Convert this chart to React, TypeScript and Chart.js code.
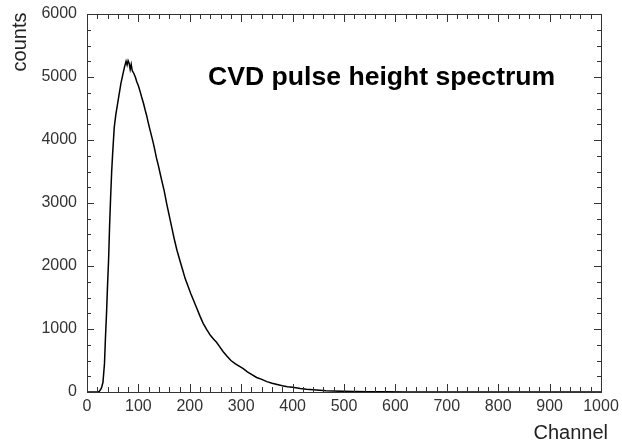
import React, { useEffect, useRef } from "react";
import { Chart, registerables } from "chart.js";

Chart.register(...registerables);

const channels = [
  0, 10, 20, 24, 28, 31, 34, 36, 38, 40, 42, 44, 46, 48, 50, 53, 56, 59, 62, 66, 70, 73, 76, 78, 80, 82, 84, 86,
  88, 91, 94, 97, 100, 103, 106, 110, 113, 116, 119, 122, 126, 129, 132, 135, 139, 142, 145, 150, 155, 160,
  165, 170, 175, 181, 186, 191, 197, 202, 207, 213, 220, 226, 233, 240, 246, 252, 258, 265, 272, 280, 288,
  296, 304, 312, 320, 330, 340, 350, 360, 370, 380, 390, 400, 415, 427, 440, 453, 465, 479, 500, 520, 550,
  580, 620, 700, 800, 900, 1000,
];
const counts = [
  0, 0, 0, 10, 60, 150, 450, 880, 1250, 1700, 2100, 2650, 3100, 3500, 3800, 4200, 4400, 4550, 4700, 4900,
  5050, 5160, 5250, 5190, 5260, 5220, 5120, 5200, 5100, 5060, 5000, 4920, 4860, 4780, 4690, 4580, 4480, 4390,
  4280, 4180, 4050, 3950, 3840, 3720, 3590, 3480, 3370, 3200, 2990, 2800, 2610, 2420, 2250, 2080, 1940, 1800,
  1670, 1560, 1460, 1340, 1200, 1090, 990, 900, 840, 790, 720, 640, 570, 500, 450, 410, 370, 320, 280, 230,
  200, 165, 140, 120, 100, 85, 75, 55, 43, 35, 27, 20, 15, 10, 8, 5, 3, 1, 0, 0, 0, 0,
];

const xMin = 0;
const xMax = 1000;
const xStep = 100;
const xMinorStep = 20;
const yMin = 0;
const yMax = 6000;
const yStep = 1000;
const yMinorStep = 250;

const titleText = "CVD pulse height spectrum";
const xTitle = "Channel";
const yTitle = "counts";

const FONT = "'Liberation Sans', Arial, Helvetica, sans-serif";

const framePlugin = {
  id: "frame",
  afterDraw(chart: any) {
    const { ctx, chartArea } = chart;
    const xs = chart.scales.x;
    const ys = chart.scales.y;
    const { left, right, top, bottom } = chartArea;
    ctx.save();
    ctx.strokeStyle = "#333";
    ctx.lineWidth = 1;
    ctx.strokeRect(Math.round(left) + 0.5, Math.round(top) + 0.5, Math.round(right - left), Math.round(bottom - top));
    ctx.beginPath();
    for (let v = xMin; v <= xMax; v += xMinorStep) {
      const px = Math.round(xs.getPixelForValue(v)) + 0.5;
      const len = v % xStep === 0 ? 8 : 5;
      ctx.moveTo(px, bottom);
      ctx.lineTo(px, bottom - len);
      ctx.moveTo(px, top);
      ctx.lineTo(px, top + len);
    }
    for (let v = yMin; v <= yMax; v += yMinorStep) {
      const py = Math.round(ys.getPixelForValue(v)) + 0.5;
      const len = v % yStep === 0 ? 7 : 4;
      ctx.moveTo(left, py);
      ctx.lineTo(left + len, py);
      ctx.moveTo(right, py);
      ctx.lineTo(right - len, py);
    }
    ctx.stroke();

    // axis titles
    ctx.fillStyle = "#222";
    ctx.font = `20px ${FONT}`;
    ctx.textAlign = "right";
    ctx.textBaseline = "middle";
    ctx.fillText(xTitle, 608, 433);

    ctx.save();
    ctx.translate(26, 42);
    ctx.rotate(-Math.PI / 2);
    ctx.textAlign = "center";
    ctx.textBaseline = "alphabetic";
    ctx.fillText(yTitle, 0, 0);
    ctx.restore();

    // in-plot title
    ctx.fillStyle = "#000";
    ctx.font = `bold 26.6px ${FONT}`;
    ctx.textAlign = "left";
    ctx.textBaseline = "middle";
    ctx.fillText(titleText, 208, 78);
    ctx.restore();
  },
};

export default function App() {
  const canvasRef = useRef<HTMLCanvasElement | null>(null);

  useEffect(() => {
    if (!canvasRef.current) return;
    const points = channels.map((c, i) => ({ x: c, y: counts[i] }));
    const chart = new Chart(canvasRef.current, {
      type: "line",
      data: {
        datasets: [
          {
            data: points,
            borderColor: "#000",
            borderWidth: 1.5,
            pointRadius: 0,
            tension: 0,
            fill: false,
          },
        ],
      },
      options: {
        animation: false,
        responsive: true,
        maintainAspectRatio: false,
        layout: { padding: { left: 0, top: 14, right: 21, bottom: 0 } },
        plugins: {
          legend: { display: false },
          tooltip: { enabled: false },
          title: { display: false },
        },
        scales: {
          x: {
            type: "linear",
            min: xMin,
            max: xMax,
            grid: { display: false, drawTicks: false },
            border: { display: false },
            ticks: {
              stepSize: xStep,
              padding: 5,
              color: "#333",
              font: { family: FONT, size: 16 },
              maxRotation: 0,
              autoSkip: false,
              callback: (v: any) => String(v),
            },
            afterFit: (scale: any) => {
              scale.height = 52;
              scale.paddingLeft = 0;
              scale.paddingRight = 0;
              scale.paddingTop = 0;
              scale.paddingBottom = 0;
            },
          },
          y: {
            type: "linear",
            min: yMin,
            max: yMax,
            grid: { display: false, drawTicks: false },
            border: { display: false },
            ticks: {
              stepSize: yStep,
              padding: 10,
              color: "#333",
              font: { family: FONT, size: 16 },
              callback: (v: any) => String(v),
            },
            afterFit: (scale: any) => {
              scale.width = 87;
              scale.paddingLeft = 0;
              scale.paddingRight = 0;
              scale.paddingTop = 0;
              scale.paddingBottom = 0;
            },
          },
        },
      },
      plugins: [framePlugin],
    });
    return () => chart.destroy();
  }, []);

  return (
    <div style={{ position: "absolute", left: 0, top: 0, width: 622, height: 444, background: "#fff" }}>
      <canvas ref={canvasRef} />
    </div>
  );
}
